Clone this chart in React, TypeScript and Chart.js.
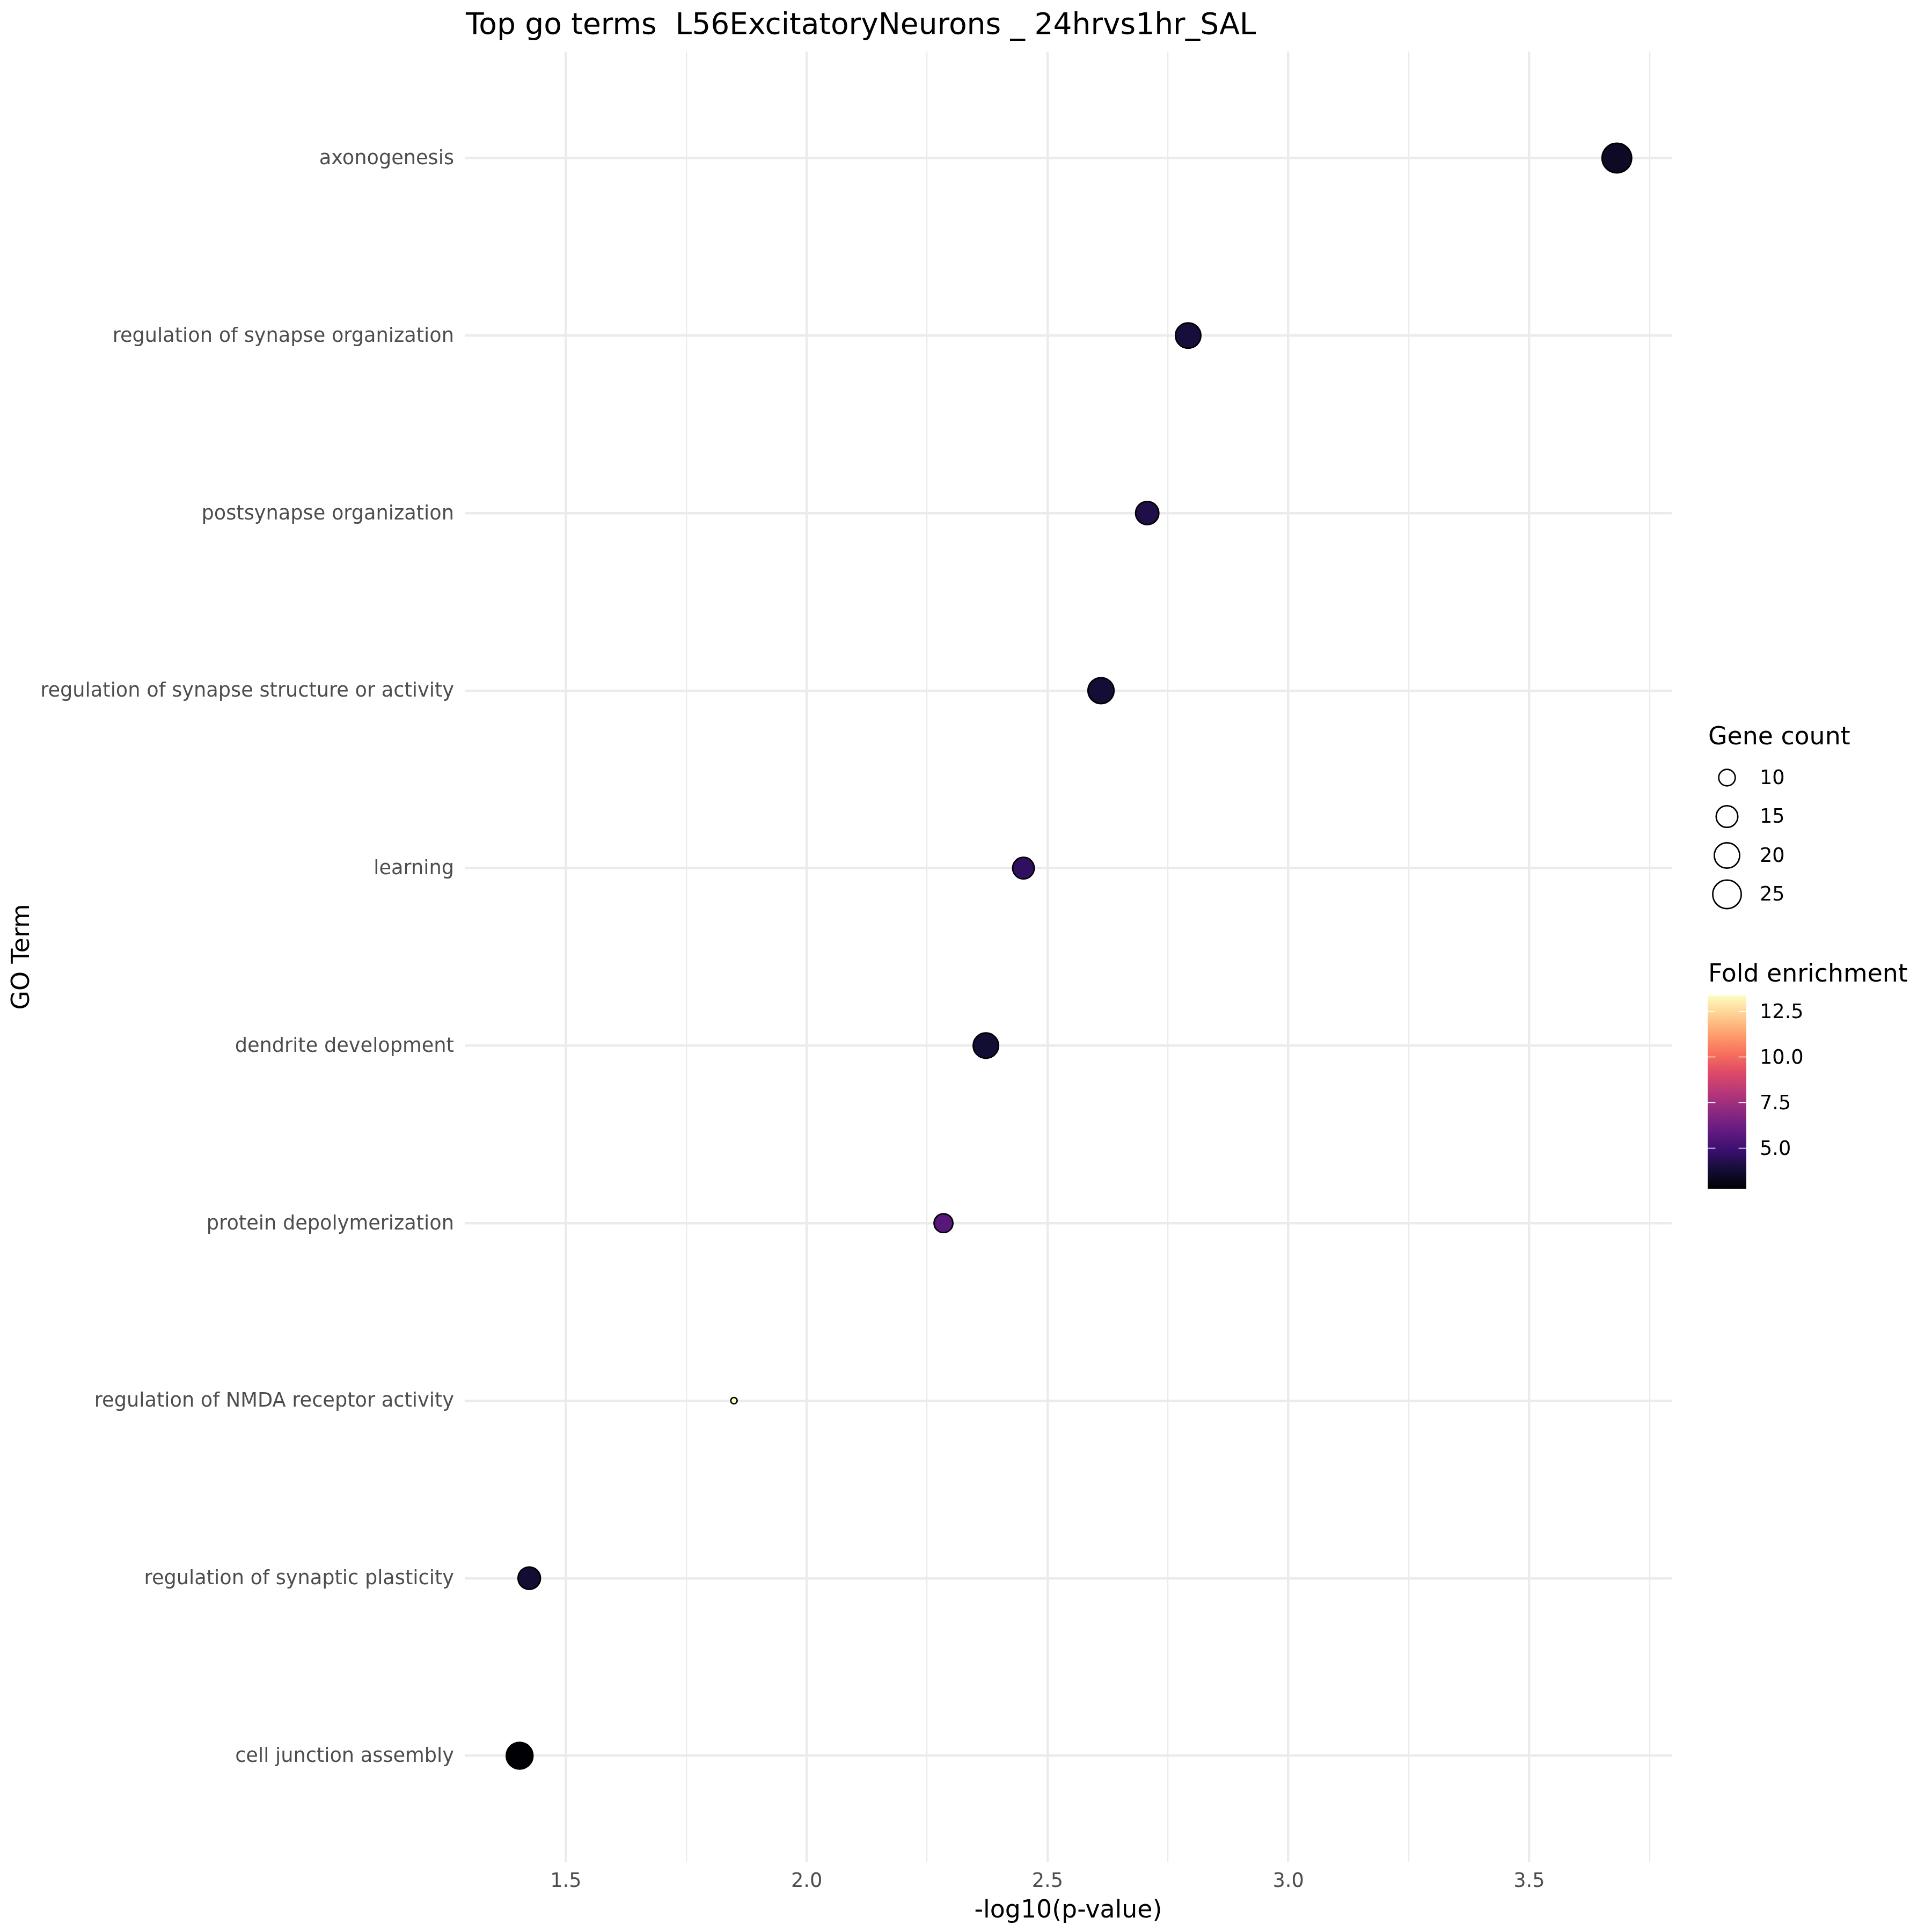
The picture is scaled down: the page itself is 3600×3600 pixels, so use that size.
import React, { useEffect, useRef } from "react";
import { Chart, registerables } from "chart.js";

Chart.register(...registerables);

// ---------- data ----------
const goTerms = [
  "axonogenesis",
  "regulation of synapse organization",
  "postsynapse organization",
  "regulation of synapse structure or activity",
  "learning",
  "dendrite development",
  "protein depolymerization",
  "regulation of NMDA receptor activity",
  "regulation of synaptic plasticity",
  "cell junction assembly",
];
const negLog10P = [3.682, 2.792, 2.707, 2.611, 2.45, 2.372, 2.284, 1.849, 1.424, 1.404];
const geneCount = [27, 20, 17, 21, 15, 20, 12, 6, 16, 22];
const foldEnrichment = [3.5, 3.95, 4.15, 3.85, 4.6, 3.75, 5.64, 13.37, 3.8, 2.78];

const xTickValues = [1.5, 2.0, 2.5, 3.0, 3.5];
const xTickLabels = ["1.5", "2.0", "2.5", "3.0", "3.5"];
const sizeLegendValues = [10, 15, 20, 25];
const sizeLegendLabels = ["10", "15", "20", "25"];
const colorLegendValues = [12.5, 10.0, 7.5, 5.0];
const colorLegendLabels = ["12.5", "10.0", "7.5", "5.0"];

const titleText = "Top go terms  L56ExcitatoryNeurons _ 24hrvs1hr_SAL";
const xAxisTitle = "-log10(p-value)";
const yAxisTitle = "GO Term";
const sizeLegendTitle = "Gene count";
const colorLegendTitle = "Fold enrichment";

// ---------- styles ----------
const MAGMA = [
  "#000004", "#140E36", "#3B0F70", "#641A80", "#8C2981", "#B73779",
  "#DE4968", "#F7705C", "#FE9F6D", "#FECF92", "#FCFDBF",
];
const FONT = "DejaVu Sans";
const W = 3600;
const H = 3600;
const PANEL_LEFT = 866;
const PANEL_RIGHT = 3115;
const PANEL_TOP = 96;
const PANEL_BOTTOM = 3470;
const GRID = "#ebebeb";
const BORDER_W = 2.7;
const D_MIN = 14.6;
const D_MAX = 58;

function hexToRgb(h: string) {
  const n = parseInt(h.slice(1), 16);
  return [(n >> 16) & 255, (n >> 8) & 255, n & 255];
}
function magma(t: number) {
  const tt = Math.max(0, Math.min(1, t)) * (MAGMA.length - 1);
  const i = Math.min(MAGMA.length - 2, Math.floor(tt));
  const f = tt - i;
  const a = hexToRgb(MAGMA[i]);
  const b = hexToRgb(MAGMA[i + 1]);
  const c = a.map((v, k) => Math.round(v + (b[k] - v) * f));
  return `rgb(${c[0]},${c[1]},${c[2]})`;
}

const feMin = Math.min(...foldEnrichment);
const feMax = Math.max(...foldEnrichment);
const gcMin = Math.min(...geneCount);
const gcMax = Math.max(...geneCount);
const colorFor = (v: number) => magma((v - feMin) / (feMax - feMin));
const diameterFor = (v: number) =>
  D_MIN + (D_MAX - D_MIN) * Math.sqrt(Math.max(0, (v - gcMin) / (gcMax - gcMin)));
const radiusFor = (v: number) => (diameterFor(v) - BORDER_W) / 2;

const xDataMin = Math.min(...negLog10P);
const xDataMax = Math.max(...negLog10P);
const xRange = xDataMax - xDataMin;
const xMin = xDataMin - 0.05 * xRange;
const xMax = xDataMax + 0.05 * xRange;

const isMajor = (v: number) => xTickValues.some((t) => Math.abs(t - v) < 1e-9);

const decorPlugin = {
  id: "decor",
  beforeDraw(chart: any) {
    const ctx = chart.ctx;
    ctx.save();
    ctx.fillStyle = "#ffffff";
    ctx.fillRect(0, 0, chart.width, chart.height);
    ctx.restore();
  },
  afterDraw(chart: any) {
    const ctx = chart.ctx;
    const area = chart.chartArea;
    ctx.save();
    // title
    ctx.fillStyle = "#000000";
    ctx.font = `55px "${FONT}"`;
    ctx.textAlign = "left";
    ctx.textBaseline = "alphabetic";
    ctx.fillText(titleText, area.left + 2, 63);

    // x axis title
    ctx.font = `45.8px "${FONT}"`;
    ctx.textAlign = "center";
    ctx.fillText(xAxisTitle, (area.left + area.right) / 2, 3573);

    // y axis title
    ctx.save();
    ctx.translate(42, (area.top + area.bottom) / 2);
    ctx.rotate(-Math.PI / 2);
    ctx.textAlign = "center";
    ctx.textBaseline = "middle";
    ctx.fillText(yAxisTitle, 0, 0);
    ctx.restore();

    // size legend
    const lx = 3183;
    ctx.textAlign = "left";
    ctx.textBaseline = "alphabetic";
    ctx.font = `45.8px "${FONT}"`;
    ctx.fillText(sizeLegendTitle, lx, 1387);
    ctx.font = `36.7px "${FONT}"`;
    sizeLegendValues.forEach((v, i) => {
      const cy = 1449 + i * 72.5;
      ctx.beginPath();
      ctx.arc(3218, cy, radiusFor(v), 0, Math.PI * 2);
      ctx.lineWidth = BORDER_W;
      ctx.strokeStyle = "#000000";
      ctx.stroke();
      ctx.textBaseline = "middle";
      ctx.fillText(sizeLegendLabels[i], 3279, cy + 2);
    });

    // colour legend
    ctx.textBaseline = "alphabetic";
    ctx.font = `45.8px "${FONT}"`;
    ctx.fillText(colorLegendTitle, lx, 1829);
    const bx = 3182, bw = 72, btop = 1855, bbot = 2215;
    const grad = ctx.createLinearGradient(0, bbot, 0, btop);
    MAGMA.forEach((c, i) => grad.addColorStop(i / (MAGMA.length - 1), c));
    ctx.fillStyle = grad;
    ctx.fillRect(bx, btop, bw, bbot - btop);
    ctx.font = `36.7px "${FONT}"`;
    colorLegendValues.forEach((v, i) => {
      const y = bbot - ((v - feMin) / (feMax - feMin)) * (bbot - btop);
      ctx.strokeStyle = "#ffffff";
      ctx.lineWidth = 1.5;
      ctx.beginPath();
      ctx.moveTo(bx, y);
      ctx.lineTo(bx + bw / 5, y);
      ctx.moveTo(bx + bw - bw / 5, y);
      ctx.lineTo(bx + bw, y);
      ctx.stroke();
      ctx.fillStyle = "#000000";
      ctx.textBaseline = "middle";
      ctx.fillText(colorLegendLabels[i], 3279, y + 3);
    });
    ctx.restore();
  },
};

export default function App() {
  const ref = useRef<HTMLCanvasElement | null>(null);
  useEffect(() => {
    if (!ref.current) return;
    Chart.defaults.font.family = FONT;
    const chart = new Chart(ref.current, {
      type: "scatter",
      data: {
        datasets: [
          {
            label: "GO terms",
            data: negLog10P.map((x, i) => ({ x, y: i })),
            pointRadius: geneCount.map((c) => radiusFor(c)),
            pointBackgroundColor: foldEnrichment.map((f) => colorFor(f)),
            pointBorderColor: "#000000",
            pointBorderWidth: BORDER_W,
            pointHoverRadius: geneCount.map((c) => radiusFor(c)),
          },
        ],
      },
      options: {
        animation: false,
        responsive: false,
        devicePixelRatio: 1,
        events: [],
        layout: {
          padding: { left: 0, top: PANEL_TOP, right: W - PANEL_RIGHT, bottom: 0 },
        },
        plugins: {
          legend: { display: false },
          tooltip: { enabled: false },
          title: { display: false },
        },
        scales: {
          x: {
            type: "linear",
            min: xMin,
            max: xMax,
            afterFit: (s: any) => {
              s.height = H - PANEL_BOTTOM;
            },
            afterBuildTicks: (s: any) => {
              const vals: number[] = [...xTickValues];
              xTickValues.forEach((v) => {
                if (v + 0.25 <= xMax) vals.push(v + 0.25);
                if (v - 0.25 >= xMin) vals.push(v - 0.25);
              });
              const uniq = Array.from(new Set(vals.map((v) => Math.round(v * 1000) / 1000))).sort(
                (a, b) => a - b
              );
              s.ticks = uniq.map((v) => ({ value: v }));
            },
            ticks: {
              autoSkip: false,
              maxRotation: 0,
              padding: 14,
              color: "#4d4d4d",
              font: { family: FONT, size: 36.7 },
              callback: (value: any) => {
                const i = xTickValues.findIndex((t) => Math.abs(t - value) < 1e-9);
                return i >= 0 ? xTickLabels[i] : "";
              },
            },
            grid: {
              color: GRID,
              lineWidth: (c: any) => (c.tick && isMajor(c.tick.value) ? 4.4 : 2.2),
              drawTicks: false,
            },
            border: { display: false },
          },
          y: {
            type: "linear",
            min: -0.6,
            max: goTerms.length - 1 + 0.6,
            reverse: true,
            afterFit: (s: any) => {
              s.width = PANEL_LEFT;
            },
            afterBuildTicks: (s: any) => {
              s.ticks = goTerms.map((_, i) => ({ value: i }));
            },
            ticks: {
              autoSkip: false,
              padding: 20,
              labelOffset: 2,
              color: "#4d4d4d",
              font: { family: FONT, size: 36.7 },
              callback: (value: any) => goTerms[Math.round(value)] ?? "",
            },
            grid: {
              color: GRID,
              lineWidth: 4.4,
              drawTicks: false,
            },
            border: { display: false },
          },
        },
      },
      plugins: [decorPlugin],
    } as any);
    return () => chart.destroy();
  }, []);

  return (
    <div style={{ position: "absolute", left: 0, top: 0, width: W, height: H, background: "#fff" }}>
      <canvas ref={ref} width={W} height={H} style={{ width: W, height: H, display: "block" }} />
    </div>
  );
}
